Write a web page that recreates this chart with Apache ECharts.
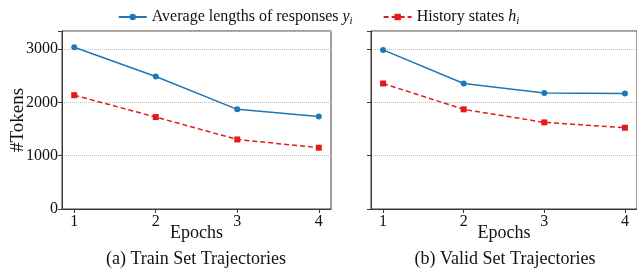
<!DOCTYPE html>
<html><head><meta charset="utf-8">
<script src="https://cdn.jsdelivr.net/npm/echarts@6/dist/echarts.min.js"></script>
<style>html,body{margin:0;padding:0;background:#fff}#c{width:637px;height:270px}</style>
</head><body><div id="c"></div>
<script>
const epochs = [1, 2, 3, 4];
const trainResp = [3035, 2485, 1870, 1735];
const trainHist = [2135, 1725, 1305, 1150];
const validResp = [2985, 2355, 2175, 2165];
const validHist = [2355, 1870, 1625, 1525];
const yTicks = [0, 1000, 2000, 3000];
const captions = ['(a) Train Set Trajectories', '(b) Valid Set Trajectories'];

const font = 'Liberation Serif, Times New Roman, serif';
const blue = '#1f77b4', red = '#e31a1c', axisCol = '#3a3a3a';
const chart = echarts.init(document.getElementById('c'), null, {renderer: 'canvas'});
const pairs = (ys) => epochs.map((e, i) => [e, ys[i]]);

function xAxis(idx) {
  return {
    gridIndex: idx, type: 'value', min: 0.85, max: 4.15,
    name: 'Epochs', nameLocation: 'middle', nameGap: 15, nameMoveOverlap: false,
    nameTextStyle: {fontFamily: font, fontSize: 18, color: '#111'},
    axisLine: {show: true, lineStyle: {color: axisCol, width: 1}},
    axisTick: {show: true, length: 4, lineStyle: {color: axisCol}, customValues: epochs},
    axisLabel: {show: true, fontFamily: font, fontSize: 16, color: '#111', margin: 5, customValues: epochs},
    splitLine: {show: false}
  };
}
function yAxis(idx, labels) {
  return {
    gridIndex: idx, type: 'value', min: 0, max: 3340, interval: 1000,
    name: labels ? '#Tokens' : '', nameLocation: 'middle', nameGap: 34, nameMoveOverlap: false,
    nameTextStyle: {fontFamily: font, fontSize: 19, color: '#111'},
    axisLine: {show: true, lineStyle: {color: axisCol, width: 1}},
    axisTick: {show: true, length: 4, lineStyle: {color: axisCol}},
    axisLabel: {show: labels, fontFamily: font, fontSize: 16, color: '#111', margin: 4,
      formatter: v => (yTicks.indexOf(v) >= 0 ? String(v) : '')},
    splitLine: {show: true, lineStyle: {color: '#c0c0c0', type: 'dotted', width: 1}}
  };
}
function series(idx, name, data, col, sym, dash) {
  return {
    type: 'line', name: name, xAxisIndex: idx, yAxisIndex: idx, data: pairs(data),
    symbol: sym, symbolSize: 6, showSymbol: true,
    lineStyle: {color: col, width: 1.5, type: dash ? [5, 3] : 'solid'},
    itemStyle: {color: col}, animation: false
  };
}
const nameA = 'Average lengths of responses';
const nameB = 'History states';

chart.setOption({
  animation: false,
  legend: {
    top: 4, left: 'center', itemWidth: 28, itemHeight: 8, itemGap: 30,
    data: [nameA, nameB],
    textStyle: {fontFamily: font, fontSize: 16, color: '#111',
      rich: {
        t: {fontFamily: font, fontSize: 16, color: '#111'},
        it: {fontFamily: font, fontSize: 16, fontStyle: 'italic', color: '#111'},
        sub: {fontFamily: font, fontSize: 11, fontStyle: 'italic', color: '#111', padding: [8, 0, 0, 0]}
      }},
    formatter: n => n === nameA ? '{t|' + nameA + ' }{it|y}{sub|i}' : '{t|' + nameB + ' }{it|h}{sub|i}'
  },
  grid: [
    {left: 62, top: 31, width: 269, height: 178, show: true, borderColor: axisCol, borderWidth: 1, containLabel: false},
    {left: 371, top: 31, width: 268, height: 178, show: true, borderColor: axisCol, borderWidth: 1, containLabel: false}
  ],
  xAxis: [xAxis(0), xAxis(1)],
  yAxis: [yAxis(0, true), yAxis(1, false)],
  series: [
    series(0, nameA, trainResp, blue, 'circle', false),
    series(0, nameB, trainHist, red, 'rect', true),
    series(1, nameA, validResp, blue, 'circle', false),
    series(1, nameB, validHist, red, 'rect', true)
  ],
  graphic: [
    {type: 'text', x: 196, y: 250, style: {text: captions[0], font: '18px ' + font, fill: '#111', align: 'center'}},
    {type: 'text', x: 505, y: 250, style: {text: captions[1], font: '18px ' + font, fill: '#111', align: 'center'}}
  ]
});
</script></body></html>
